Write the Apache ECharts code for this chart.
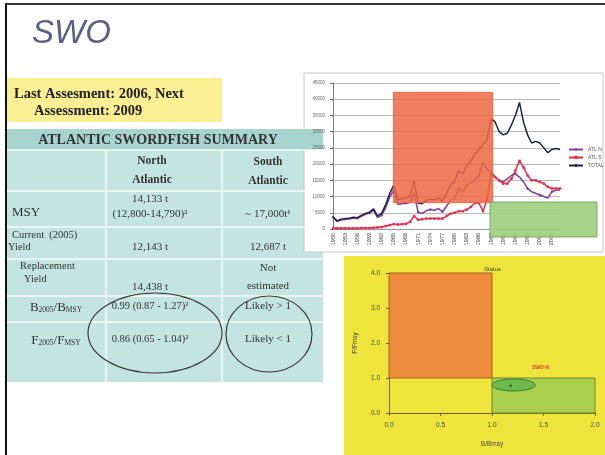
<!DOCTYPE html>
<html><head><meta charset="utf-8">
<script src="https://cdn.jsdelivr.net/npm/echarts@6/dist/echarts.min.js"></script>
<style>html,body{margin:0;padding:0;background:#fff}#c{width:605px;height:455px}</style>
</head><body><div id="c"></div>
<script>
// ---- Catch chart data (t), 1950-2006 ----
const years = ['1950','1951','1952','1953','1954','1955','1956','1957','1958','1959',
  '1960','1961','1962','1963','1964','1965','1966','1967','1968','1969',
  '1970','1971','1972','1973','1974','1975','1976','1977','1978','1979',
  '1980','1981','1982','1983','1984','1985','1986','1987','1988','1989',
  '1990','1991','1992','1993','1994','1995','1996','1997','1998','1999',
  '2000','2001','2002','2003','2004','2005','2006'];
const atlN = [3600,2300,2800,3000,3100,3400,3300,3900,4500,4900,
  5800,3500,4200,6600,9800,12000,7600,7800,7900,8200,
  11000,5200,4800,5600,6000,5800,6300,5300,7000,8800,
  9500,12500,11500,13500,14200,15000,16500,20500,18500,17500,
  16000,15000,14500,15500,16500,17000,16000,14500,12500,11500,
  11000,10500,10000,9500,11500,12000,12000];
const atlS = [200,200,200,200,200,200,200,300,300,300,
  400,500,600,900,1200,1500,1400,1500,1600,2200,
  4000,2800,3000,3200,3200,3200,3200,3200,4000,4700,
  5000,5500,5500,6000,6800,8000,8000,5500,9000,17000,
  16000,15000,14000,14000,15500,18000,21000,19000,16500,15000,
  15000,14500,14000,13000,12500,12500,12500];
const total = [3800,2500,3000,3200,3300,3600,3500,4200,4800,5200,
  6200,4000,4800,7500,11000,13500,9000,9300,9500,10000,
  15000,8000,7800,8800,9200,9000,9500,8500,11000,13500,
  14500,18000,17000,19500,21000,23000,24500,26000,27500,34000,
  33000,30000,29000,29500,32000,35000,39000,33000,29000,26500,
  27000,26500,25000,23500,24500,24800,24500];
const seriesNames = ['ATL N','ATL S','TOTAL'];

// ---- Status (Kobe) plot data ----
const statusPoint = [1.18, 0.78];          // B/Bmsy, F/Fmsy
const statusEllipse = [1.21, 0.80, 0.21, 0.17]; // cx, cy, rx, ry (data units)
const zoneOverfishing = [[0, 1], [1, 4]];
const zoneHealthy = [[1, 0], [2, 1]];
const stockLabel = 'SWO-N';

// ---- Slide text ----
const slideTitle = 'SWO';
const assessLines = ['Last Assesment: 2006, Next', 'Assessment: 2009'];
const tableTitle = 'ATLANTIC SWORDFISH SUMMARY';
const colHeads = [['North', 'Atlantic'], ['South', 'Atlantic']];
const rowLabels = [['MSY'], ['Current  (2005)', 'Yield'], ['Replacement', 'Yield']];
const northVals = [['14,133 t', '(12,800-14,790)²'], ['12,143 t'], ['14,438 t']];
const southVals = [['~ 17,000t¹'], ['12,687 t'], ['Not', 'estimated']];
const ratioRows = [
  {label: '{a|B}{s|2005}{a|/B}{s|MSY}', north: '0.99 (0.87 - 1.27)²', south: 'Likely > 1'},
  {label: '{a|F}{s|2005}{a|/F}{s|MSY}', north: '0.86 (0.65 - 1.04)²', south: 'Likely < 1'}
];

const SERIF = '"Liberation Serif", "Times New Roman", serif';
const TXT = '#333';
function t(x, y, text, size, opts) {
  opts = opts || {};
  return {type: 'text', z: 20, x: x, y: y, style: {
    text: text, fill: opts.fill || TXT, textAlign: opts.align || 'center', textVerticalAlign: 'middle',
    font: (opts.bold ? 'bold ' : '') + (opts.italic ? 'italic ' : '') + size + 'px ' + (opts.family || SERIF),
    rich: opts.rich
  }};
}

const g = [];
// slide frame
g.push({type: 'rect', z: -20, shape: {x: 5, y: 3, width: 600, height: 2}, style: {fill: '#333'}});
g.push({type: 'rect', z: -20, shape: {x: 5, y: 3, width: 2, height: 452}, style: {fill: '#111'}});
// title
g.push(t(32, 34, slideTitle, 33, {align: 'left', italic: true, family: '"Liberation Sans", Arial, sans-serif', fill: '#58617f'}));
// assessment box
g.push({type: 'rect', z: -10, shape: {x: 7, y: 78, width: 215, height: 44}, style: {fill: '#fbee93'}});
g.push(t(14, 94, assessLines[0], 14.5, {align: 'left', bold: true, fill: '#222'}));
g.push(t(34, 111, assessLines[1], 14.5, {align: 'left', bold: true, fill: '#222'}));
// table
g.push({type: 'rect', z: -10, shape: {x: 7, y: 129, width: 316, height: 253}, style: {fill: '#c3e4e0'}});
g.push({type: 'rect', z: -9, shape: {x: 7, y: 129, width: 316, height: 21}, style: {fill: '#a8d4cf'}});
[150, 191, 227, 259, 296, 322].forEach(function (yy) {
  g.push({type: 'line', z: -8, shape: {x1: 7, y1: yy, x2: 323, y2: yy}, style: {stroke: 'rgba(255,255,255,0.85)', lineWidth: 1.5}});
});
[106, 222].forEach(function (xx) {
  g.push({type: 'line', z: -8, shape: {x1: xx, y1: 150, x2: xx, y2: 382}, style: {stroke: 'rgba(255,255,255,0.85)', lineWidth: 1.5}});
});
g.push(t(158, 140, tableTitle, 14, {bold: true}));
g.push(t(152, 161, colHeads[0][0], 11.5, {bold: true}));
g.push(t(152, 180, colHeads[0][1], 11.5, {bold: true}));
g.push(t(268, 162, colHeads[1][0], 11.5, {bold: true}));
g.push(t(268, 181, colHeads[1][1], 11.5, {bold: true}));
// MSY row
g.push(t(12, 213, rowLabels[0][0], 13, {align: 'left'}));
g.push(t(150, 199, northVals[0][0], 11));
g.push(t(150, 214, northVals[0][1], 11));
g.push(t(268, 214, southVals[0][0], 11));
// Current yield
g.push(t(12, 235, rowLabels[1][0], 10.5, {align: 'left'}));
g.push(t(8, 247, rowLabels[1][1], 10.5, {align: 'left'}));
g.push(t(150, 247, northVals[1][0], 11));
g.push(t(268, 247, southVals[1][0], 11));
// Replacement yield
g.push(t(20, 266, rowLabels[2][0], 10.5, {align: 'left'}));
g.push(t(24, 279, rowLabels[2][1], 10.5, {align: 'left'}));
g.push(t(150, 287, northVals[2][0], 11));
g.push(t(268, 268, southVals[2][0], 11));
g.push(t(268, 286, southVals[2][1], 11));
// ratio rows
[306, 339].forEach(function (yy, i) {
  g.push(t(56, yy, ratioRows[i].label, 13, {rich: {
    a: {font: '13px ' + SERIF, fill: TXT, lineHeight: 16, verticalAlign: 'bottom'},
    s: {font: '7.5px ' + SERIF, fill: TXT, lineHeight: 16, verticalAlign: 'bottom'}
  }}));
  g.push(t(150, yy, ratioRows[i].north, 10.5));
  g.push(t(268, yy, ratioRows[i].south, 11));
});
g.push({type: 'ellipse', z: 21, shape: {cx: 155, cy: 333, rx: 67, ry: 40}, style: {fill: 'none', stroke: '#3a3a3a', lineWidth: 1.2}});
g.push({type: 'ellipse', z: 21, shape: {cx: 269, cy: 334, rx: 43, ry: 38}, style: {fill: 'none', stroke: '#3a3a3a', lineWidth: 1.2}});
// catch chart frame
g.push({type: 'rect', z: -10, shape: {x: 304, y: 73, width: 299, height: 179}, style: {fill: '#fff', stroke: '#c8c8c8', lineWidth: 1}});
// annotation boxes over catch chart
g.push({type: 'rect', z: 100, shape: {x: 393, y: 92, width: 100, height: 111}, style: {fill: 'rgba(236,104,70,0.86)', stroke: 'rgba(200,80,50,0.6)', lineWidth: 0.5}});
g.push({type: 'rect', z: 100, shape: {x: 490, y: 202, width: 107, height: 35}, style: {fill: 'rgba(152,206,122,0.88)', stroke: '#6f9a55', lineWidth: 0.8}});
// status background
g.push({type: 'rect', z: -10, shape: {x: 344, y: 256, width: 261, height: 199}, style: {fill: '#efe43c'}});

const chart = echarts.init(document.getElementById('c'), null, {renderer: 'canvas'});
chart.setOption({
  animation: false,
  backgroundColor: '#fff',
  graphic: g,
  title: {text: 'Status', left: 479, top: 261, textStyle: {fontSize: 6, fontWeight: 'normal', color: '#444', fontFamily: 'Arial'}},
  legend: {data: seriesNames, orient: 'vertical', left: 563, top: 142, itemWidth: 14, itemHeight: 4, itemGap: 3,
    textStyle: {fontSize: 5, color: '#555'}},
  grid: [
    {left: 333, top: 83, width: 227, height: 146},
    {left: 389, top: 273, width: 206, height: 140}
  ],
  xAxis: [
    {gridIndex: 0, type: 'category', data: years, boundaryGap: false,
      axisLabel: {rotate: 90, interval: 2, fontSize: 5.5, color: '#444', margin: 4},
      axisTick: {show: false}, axisLine: {lineStyle: {color: '#999'}}},
    {gridIndex: 1, type: 'value', min: 0, max: 2, interval: 0.5,
      axisLabel: {formatter: function (v) { return v.toFixed(1); }, fontSize: 6.5, color: '#444', margin: 9},
      splitLine: {show: false}, axisLine: {lineStyle: {color: '#6b6420'}}, axisTick: {length: 3, lineStyle: {color: '#6b6420'}},
      name: 'B/Bmsy', nameLocation: 'middle', nameGap: 28, nameTextStyle: {fontSize: 6.5, color: '#444'}}
  ],
  yAxis: [
    {gridIndex: 0, type: 'value', min: 0, max: 45000, interval: 5000,
      axisLabel: {fontSize: 4.5, color: '#666', margin: 8, formatter: function (v) { return String(v); }},
      splitLine: {lineStyle: {color: '#a8a8a8', width: 0.8}},
      axisLine: {show: true, lineStyle: {color: '#777'}}, axisTick: {show: true, length: 3}},
    {gridIndex: 1, type: 'value', min: 0, max: 4, interval: 1,
      axisLabel: {formatter: function (v) { return v.toFixed(1); }, fontSize: 6.5, color: '#444', margin: 9},
      splitLine: {show: false}, axisLine: {show: true, lineStyle: {color: '#6b6420'}}, axisTick: {show: true, length: 3, lineStyle: {color: '#6b6420'}},
      name: 'F/Fmsy', nameLocation: 'middle', nameGap: 30, nameRotate: 90, nameTextStyle: {fontSize: 6.5, color: '#444'}}
  ],
  series: [
    {name: 'ATL N', type: 'line', xAxisIndex: 0, yAxisIndex: 0, data: atlN, color: '#7a3f9e',
      lineStyle: {width: 1.5}, symbol: 'diamond', symbolSize: 3, z: 3},
    {name: 'ATL S', type: 'line', xAxisIndex: 0, yAxisIndex: 0, data: atlS, color: '#e2304f',
      lineStyle: {width: 1.5}, symbol: 'rect', symbolSize: 2.5, z: 3},
    {name: 'TOTAL', type: 'line', xAxisIndex: 0, yAxisIndex: 0, data: total, color: '#202040',
      lineStyle: {width: 1.5}, symbol: 'none', z: 4},
    {type: 'scatter', xAxisIndex: 1, yAxisIndex: 1, data: [], z: 1, silent: true,
      markArea: {silent: true, data: [
        [{coord: zoneOverfishing[0], itemStyle: {color: '#ef8b3c', borderColor: '#a8601e', borderWidth: 1}}, {coord: zoneOverfishing[1]}],
        [{coord: zoneHealthy[0], itemStyle: {color: '#a9cf4c', borderColor: '#6a8a2c', borderWidth: 1}}, {coord: zoneHealthy[1]}]
      ]}},
    {type: 'custom', xAxisIndex: 1, yAxisIndex: 1, data: [statusEllipse], z: 5, silent: true,
      renderItem: function (params, api) {
        const c = api.coord([api.value(0), api.value(1)]);
        const s = api.size([api.value(2), api.value(3)]);
        return {type: 'ellipse', shape: {cx: c[0], cy: c[1], rx: s[0], ry: s[1]},
          style: {fill: '#6dbb4e', stroke: '#3d7a2e', lineWidth: 1}};
      }},
    {type: 'scatter', xAxisIndex: 1, yAxisIndex: 1, data: [statusPoint], z: 6, symbolSize: 3, color: '#2f6a2f',
      label: {show: true, formatter: stockLabel, offset: [30, -18], fontSize: 5, color: '#d42020', fontWeight: 'bold'}}
  ]
});
</script></body></html>
